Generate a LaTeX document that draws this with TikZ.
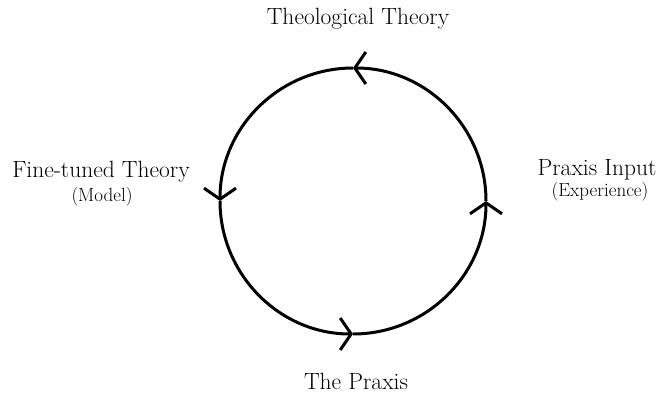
\documentclass[tikz,border=0pt]{standalone}
\usepackage{amsmath}
\usepackage{xcolor}
\usepackage{tikz}
\usetikzlibrary{arrows.meta}

\begin{document}
\begin{tikzpicture}[x=1pt,y=1pt,
    flowline/.style={line width=3pt,-{Straight Barb[length=11pt,width=32pt,line width=3pt]}},
    bigtext/.style={font=\fontsize{23.5}{28}\selectfont},
    smalltext/.style={font=\fontsize{19}{22}\selectfont}]
        \useasboundingbox (0,0) rectangle (662,394);
        % Cycle points
        \coordinate (c) at (353,193);
        \coordinate (e) at (486,193);
        \coordinate (n) at (353,326);
        \coordinate (w) at (220,193);
        \coordinate (s) at (353,60);
        % Labels
        \node[bigtext] (theory) at (358,375) {Theological Theory};
        \node[bigtext] (finetuned) at (101,222) {Fine-tuned Theory};
        \node[smalltext] (model) at (102,197) {(Model)};
        \node[bigtext] (input) at (597,224) {Praxis Input};
        \node[smalltext] (experience) at (600,202) {(Experience)};
        \node[bigtext] (praxis) at (356,13) {The Praxis};
        % Cycle
        \draw[flowline] (s) arc[start angle=-90, end angle=0, radius=133];
        \draw[flowline] (e) arc[start angle=0, end angle=90, radius=133];
        \draw[flowline] (n) arc[start angle=90, end angle=180, radius=133];
        \draw[flowline] (w) arc[start angle=180, end angle=270, radius=133];
    \end{tikzpicture}
\end{document}
